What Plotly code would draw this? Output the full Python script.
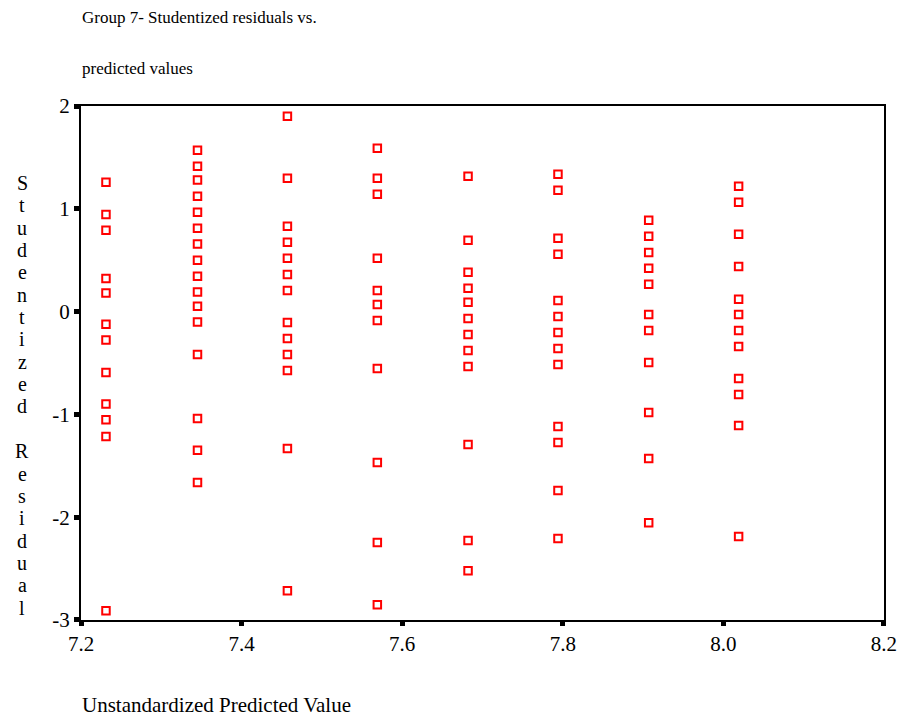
import plotly.graph_objects as go

# Unstandardized predicted value for each of the eight groups of cases
predicted = [7.231, 7.345, 7.457, 7.569, 7.682, 7.794, 7.907, 8.019]

# Studentized residuals observed at each predicted value
resid_1 = [1.258, 0.944, 0.791, 0.323, 0.181, -0.124, -0.277, -0.592, -0.900, -1.053, -1.215, -2.909]
resid_2 = [1.570, 1.414, 1.281, 1.122, 0.966, 0.810, 0.658, 0.499, 0.343, 0.191, 0.051, -0.101,
           -0.417, -1.040, -1.348, -1.663]
resid_3 = [1.901, 1.297, 0.830, 0.674, 0.518, 0.362, 0.206, -0.105, -0.261, -0.417, -0.572,
           -1.332, -2.715]
resid_4 = [1.589, 1.297, 1.141, 0.518, 0.206, 0.070, -0.086, -0.553, -1.468, -2.247, -2.851]
resid_5 = [1.316, 0.693, 0.382, 0.226, 0.090, -0.066, -0.222, -0.378, -0.534, -1.293, -2.228, -2.520]
resid_6 = [1.336, 1.180, 0.713, 0.557, 0.109, -0.047, -0.203, -0.358, -0.514, -1.118, -1.274,
           -1.741, -2.208]
resid_7 = [0.888, 0.732, 0.576, 0.421, 0.265, -0.027, -0.183, -0.495, -0.982, -1.429, -2.053]
resid_8 = [1.219, 1.063, 0.752, 0.440, 0.119, -0.027, -0.183, -0.339, -0.650, -0.806, -1.108, -2.189]

residual_groups = [resid_1, resid_2, resid_3, resid_4, resid_5, resid_6, resid_7, resid_8]

x_ticks = [7.2, 7.4, 7.6, 7.8, 8.0, 8.2]
x_labels = ["7.2", "7.4", "7.6", "7.8", "8.0", "8.2"]
y_ticks = [-3, -2, -1, 0, 1, 2]
y_labels = ["-3", "-2", "-1", "0", "1", "2"]

title_lines = ["Group 7- Studentized residuals vs.", "predicted values"]
y_title = "Studentized Residual"
x_title = "Unstandardized Predicted Value"

xs, ys = [], []
for xv, group in zip(predicted, residual_groups):
    xs.extend([xv] * len(group))
    ys.extend(group)

W, H = 909, 721
ML, MR, MT, MB = 81, 21, 106, 101
PW, PH = W - ML - MR, H - MT - MB
FONT = "Liberation Serif"


def paper_x(pix):
    return (pix - ML) / PW


def paper_y(pix):
    return (H - MB - pix) / PH


fig = go.Figure()
fig.add_trace(go.Scatter(
    x=xs, y=ys, mode="markers",
    marker=dict(symbol="square-open", size=7.5, color="#ff0000",
                line=dict(color="#ff0000", width=2)),
    showlegend=False, hoverinfo="x+y",
))

annotations = []
# two-line chart heading
for text, ypix in zip(title_lines, [18, 68]):
    annotations.append(dict(
        text=text, xref="paper", yref="paper", x=paper_x(80), y=paper_y(ypix),
        xanchor="left", yanchor="middle", showarrow=False,
        font=dict(family=FONT, size=17, color="#000000"),
    ))

# vertical axis title, one letter per row
row = 0
for ch in y_title:
    if ch != " ":
        annotations.append(dict(
            text=ch, xref="paper", yref="paper", x=paper_x(22), y=paper_y(183 + 22.35 * row),
            xanchor="center", yanchor="middle", showarrow=False,
            font=dict(family=FONT, size=20, color="#000000"),
        ))
    row += 1

# horizontal axis title, left aligned under the frame
annotations.append(dict(
    text=x_title, xref="paper", yref="paper", x=paper_x(80), y=paper_y(705),
    xanchor="left", yanchor="middle", showarrow=False,
    font=dict(family=FONT, size=21, color="#000000"),
))

fig.update_layout(
    width=W, height=H,
    margin=dict(l=ML, r=MR, t=MT, b=MB),
    paper_bgcolor="#ffffff", plot_bgcolor="#ffffff",
    font=dict(family=FONT, size=20, color="#000000"),
    annotations=annotations,
    xaxis=dict(
        range=[7.1999, 8.2001], tickmode="array", tickvals=x_ticks, ticktext=x_labels,
        showgrid=False, zeroline=False, showline=True, linecolor="#000000", linewidth=2,
        mirror=True, ticks="outside", ticklen=4, tickwidth=5, tickcolor="#000000",
        tickfont=dict(family=FONT, size=21, color="#000000"),
    ),
    yaxis=dict(
        range=[-3.0002, 2.0002], tickmode="array", tickvals=y_ticks, ticktext=y_labels,
        showgrid=False, zeroline=False, showline=True, linecolor="#000000", linewidth=2,
        mirror=True, ticks="outside", ticklen=5, tickwidth=5, tickcolor="#000000",
        tickfont=dict(family=FONT, size=21, color="#000000"),
    ),
)

fig.write_html("out.html")
